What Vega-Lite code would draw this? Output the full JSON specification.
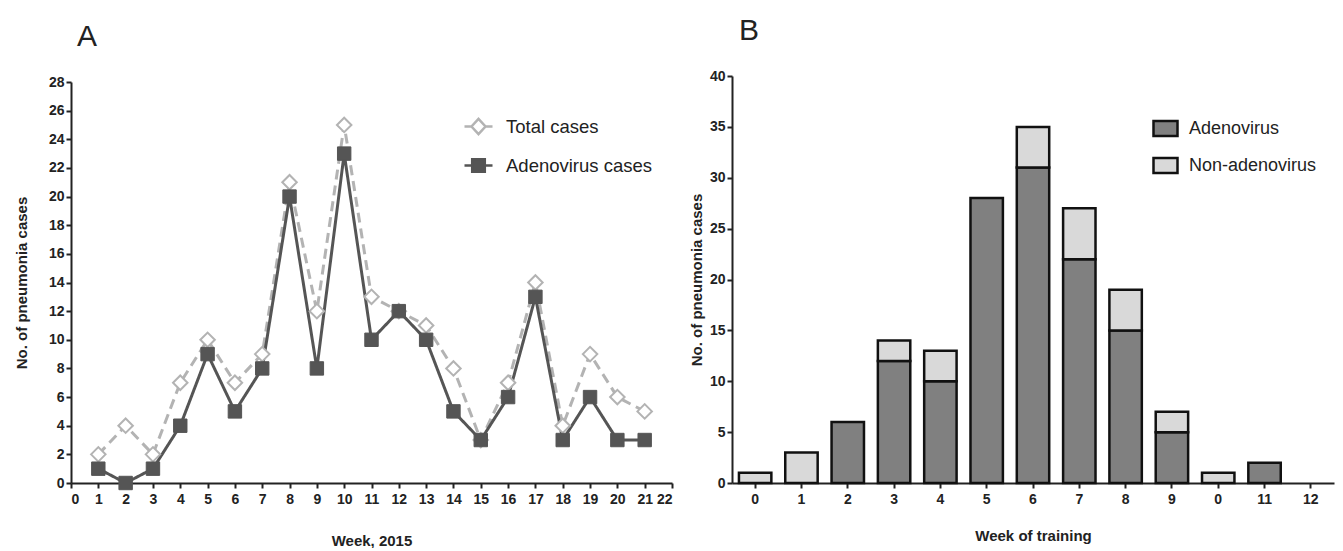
{
  "$schema": "https://vega.github.io/schema/vega-lite/v6.json",
  "background": "white",
  "padding": {"left": 14, "top": 16, "right": 5, "bottom": 0},
  "spacing": 16,
  "resolve": {"legend": {"color": "independent", "stroke": "independent", "fill": "independent"}},
  "datasets": {
    "weekly": [
      {"week": 1, "series": "Total cases", "cases": 2},
      {"week": 2, "series": "Total cases", "cases": 4},
      {"week": 3, "series": "Total cases", "cases": 2},
      {"week": 4, "series": "Total cases", "cases": 7},
      {"week": 5, "series": "Total cases", "cases": 10},
      {"week": 6, "series": "Total cases", "cases": 7},
      {"week": 7, "series": "Total cases", "cases": 9},
      {"week": 8, "series": "Total cases", "cases": 21},
      {"week": 9, "series": "Total cases", "cases": 12},
      {"week": 10, "series": "Total cases", "cases": 25},
      {"week": 11, "series": "Total cases", "cases": 13},
      {"week": 12, "series": "Total cases", "cases": 12},
      {"week": 13, "series": "Total cases", "cases": 11},
      {"week": 14, "series": "Total cases", "cases": 8},
      {"week": 15, "series": "Total cases", "cases": 3},
      {"week": 16, "series": "Total cases", "cases": 7},
      {"week": 17, "series": "Total cases", "cases": 14},
      {"week": 18, "series": "Total cases", "cases": 4},
      {"week": 19, "series": "Total cases", "cases": 9},
      {"week": 20, "series": "Total cases", "cases": 6},
      {"week": 21, "series": "Total cases", "cases": 5},
      {"week": 1, "series": "Adenovirus cases", "cases": 1},
      {"week": 2, "series": "Adenovirus cases", "cases": 0},
      {"week": 3, "series": "Adenovirus cases", "cases": 1},
      {"week": 4, "series": "Adenovirus cases", "cases": 4},
      {"week": 5, "series": "Adenovirus cases", "cases": 9},
      {"week": 6, "series": "Adenovirus cases", "cases": 5},
      {"week": 7, "series": "Adenovirus cases", "cases": 8},
      {"week": 8, "series": "Adenovirus cases", "cases": 20},
      {"week": 9, "series": "Adenovirus cases", "cases": 8},
      {"week": 10, "series": "Adenovirus cases", "cases": 23},
      {"week": 11, "series": "Adenovirus cases", "cases": 10},
      {"week": 12, "series": "Adenovirus cases", "cases": 12},
      {"week": 13, "series": "Adenovirus cases", "cases": 10},
      {"week": 14, "series": "Adenovirus cases", "cases": 5},
      {"week": 15, "series": "Adenovirus cases", "cases": 3},
      {"week": 16, "series": "Adenovirus cases", "cases": 6},
      {"week": 17, "series": "Adenovirus cases", "cases": 13},
      {"week": 18, "series": "Adenovirus cases", "cases": 3},
      {"week": 19, "series": "Adenovirus cases", "cases": 6},
      {"week": 20, "series": "Adenovirus cases", "cases": 3},
      {"week": 21, "series": "Adenovirus cases", "cases": 3}
    ],
    "training": [
      {"idx": 0, "label": "0", "type": "Non-adenovirus", "cases": 1},
      {"idx": 1, "label": "1", "type": "Non-adenovirus", "cases": 3},
      {"idx": 2, "label": "2", "type": "Adenovirus", "cases": 6},
      {"idx": 3, "label": "3", "type": "Adenovirus", "cases": 12},
      {"idx": 3, "label": "3", "type": "Non-adenovirus", "cases": 2},
      {"idx": 4, "label": "4", "type": "Adenovirus", "cases": 10},
      {"idx": 4, "label": "4", "type": "Non-adenovirus", "cases": 3},
      {"idx": 5, "label": "5", "type": "Adenovirus", "cases": 28},
      {"idx": 6, "label": "6", "type": "Adenovirus", "cases": 31},
      {"idx": 6, "label": "6", "type": "Non-adenovirus", "cases": 4},
      {"idx": 7, "label": "7", "type": "Adenovirus", "cases": 22},
      {"idx": 7, "label": "7", "type": "Non-adenovirus", "cases": 5},
      {"idx": 8, "label": "8", "type": "Adenovirus", "cases": 15},
      {"idx": 8, "label": "8", "type": "Non-adenovirus", "cases": 4},
      {"idx": 9, "label": "9", "type": "Adenovirus", "cases": 5},
      {"idx": 9, "label": "9", "type": "Non-adenovirus", "cases": 2},
      {"idx": 10, "label": "0", "type": "Non-adenovirus", "cases": 1},
      {"idx": 11, "label": "11", "type": "Adenovirus", "cases": 2}
    ]
  },
  "config": {
    "view": {"stroke": null},
    "axis": {
      "domainColor": "#222222",
      "domainWidth": 2,
      "tickColor": "#222222",
      "tickWidth": 2,
      "tickSize": 5,
      "grid": false,
      "labelFont": "Liberation Sans Narrow, Liberation Sans, Arial",
      "labelFontWeight": "bold",
      "labelFontSize": 14,
      "labelColor": "#222222",
      "titleFont": "Liberation Sans, Arial",
      "titleFontWeight": "bold",
      "titleFontSize": 15,
      "titleColor": "#222222"
    },
    "legend": {
      "labelFont": "Liberation Sans Narrow, Liberation Sans, Arial",
      "labelFontSize": 18.5,
      "labelColor": "#222222"
    },
    "title": {
      "font": "Liberation Sans, Arial",
      "fontSize": 30,
      "fontWeight": "normal",
      "color": "#222222",
      "anchor": "start",
      "frame": "group"
    }
  },
  "hconcat": [
    {
      "width": 601,
      "height": 407,
      "title": {"text": "A", "dx": 6, "offset": 23},
      "data": {"name": "weekly"},
      "encoding": {
        "x": {
          "field": "week",
          "type": "quantitative",
          "scale": {"domain": [0, 22], "nice": false},
          "axis": {"values": [0,1,2,3,4,5,6,7,8,9,10,11,12,13,14,15,16,17,18,19,20,21,22], "title": "Week, 2015", "titlePadding": 27, "labelPadding": 4}
        },
        "y": {
          "field": "cases",
          "type": "quantitative",
          "scale": {"domain": [0, 28], "nice": false, "range": [407, 6]},
          "axis": {"values": [0,2,4,6,8,10,12,14,16,18,20,22,24,26,28], "title": "No. of pneumonia cases", "titlePadding": 19}
        }
      },
      "layer": [
        {
          "mark": {"type": "line", "strokeWidth": 3},
          "encoding": {
            "stroke": {
              "field": "series",
              "type": "nominal",
              "scale": {"domain": ["Total cases", "Adenovirus cases"], "range": ["#b3b3b3", "#555555"]},
              "legend": {
                "title": null,
                "orient": "none",
                "legendX": 392,
                "legendY": 35,
                "rowPadding": 10,
                "symbolSize": 784,
                "symbolStrokeWidth": 2.5,
                "labelOffset": 12,
                "encode": {
                  "symbols": {
                    "update": {
                      "shape": {"signal": "datum.value === 'Total cases' ? 'M-1,0L-0.5,0M0.5,0L1,0M0,-0.55L0.5,0L0,0.55L-0.5,0Z' : 'M-1,0L-0.45,0M0.45,0L1,0M-0.45,-0.45L0.45,-0.45L0.45,0.45L-0.45,0.45Z'"},
                      "fill": {"signal": "datum.value === 'Total cases' ? '#ffffff' : '#555555'"},
                      "strokeWidth": {"value": 2.5}
                    }
                  }
                }
              }
            },
            "strokeDash": {
              "field": "series",
              "type": "nominal",
              "scale": {"domain": ["Total cases", "Adenovirus cases"], "range": [[10, 6], [1, 0]]},
              "legend": null
            }
          }
        },
        {
          "transform": [{"filter": "datum.series === 'Total cases'"}],
          "mark": {"type": "point", "shape": "diamond", "filled": false, "fill": "#ffffff", "fillOpacity": 1, "stroke": "#b3b3b3", "strokeWidth": 2, "size": 210, "opacity": 1}
        },
        {
          "transform": [{"filter": "datum.series === 'Adenovirus cases'"}],
          "mark": {"type": "point", "shape": "square", "filled": true, "fill": "#555555", "stroke": "#555555", "strokeWidth": 1, "size": 180, "opacity": 1}
        }
      ]
    },
    {
      "width": 602,
      "height": 407,
      "title": {"text": "B", "dx": 7, "offset": 23},
      "data": {"name": "training"},
      "mark": {"type": "bar", "stroke": "#111111", "strokeWidth": 2.5},
      "encoding": {
        "x": {
          "field": "idx",
          "type": "ordinal",
          "scale": {"domain": [0,1,2,3,4,5,6,7,8,9,10,11,12], "paddingInner": 0.3, "paddingOuter": 0.15},
          "axis": {"labelAngle": 0, "labelExpr": "datum.value == 10 ? '0' : datum.label", "title": "Week of training", "titlePadding": 22, "labelPadding": 4}
        },
        "y": {
          "field": "cases",
          "type": "quantitative",
          "aggregate": "sum",
          "stack": "zero",
          "scale": {"domain": [0, 40], "nice": false},
          "axis": {"values": [0,5,10,15,20,25,30,35,40], "title": "No. of pneumonia cases", "titlePadding": 5}
        },
        "color": {
          "field": "type",
          "type": "nominal",
          "scale": {"domain": ["Adenovirus", "Non-adenovirus"], "range": ["#808080", "#d9d9d9"]},
          "legend": {
            "title": null,
            "orient": "none",
            "legendX": 422,
            "legendY": 41,
            "rowPadding": 12,
            "symbolType": "M-1.2,-0.75L1.2,-0.75L1.2,0.75L-1.2,0.75Z",
            "symbolSize": 400,
            "symbolStrokeColor": "#111111",
            "symbolStrokeWidth": 2.5,
            "symbolOpacity": 1,
            "labelOffset": 12,
            "labelFontSize": 18
          }
        },
        "order": {"field": "type", "sort": "ascending"}
      }
    }
  ]
}
